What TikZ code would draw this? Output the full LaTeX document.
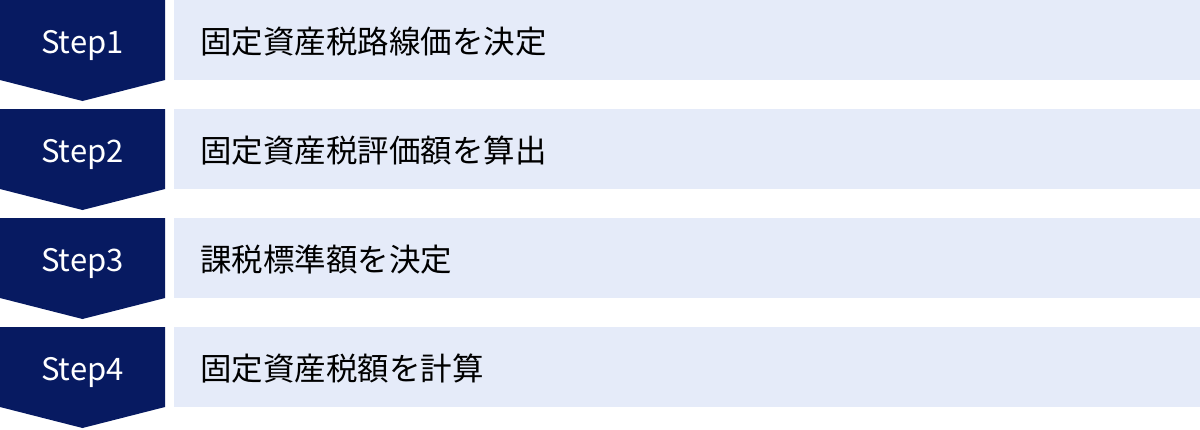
\documentclass[tikz,border=0pt]{standalone}
\usepackage{fontspec}
\newfontfamily\jpfont{Noto Sans CJK JP}
\definecolor{navy}{HTML}{071A61}
\definecolor{pale}{HTML}{E5EBF9}
\begin{document}
\begin{tikzpicture}[x=1pt,y=-1pt,
  stepshape/.style={fill=navy},
  panel/.style={fill=pale},
  steplabel/.style={text=white,font=\jpfont\fontsize{31}{36}\selectfont,inner sep=0pt,anchor=base},
  tasklabel/.style={text=black,font=\jpfont\fontsize{31.5}{36}\selectfont,inner sep=0pt,anchor=base west}]
\useasboundingbox (0,0) rectangle (1200,429);
\foreach \i/\t in {1/固定資産税路線価を決定,2/固定資産税評価額を算出,3/課税標準額を決定,4/固定資産税額を計算}{
  \pgfmathsetmacro{\top}{(\i-1)*109}
  \fill[stepshape] (0,\top) -- (165,\top) -- (165,\top+80) -- (82.5,\top+101) -- (0,\top+80) -- cycle;
  \fill[panel] (174,\top) rectangle (1200,\top+80);
  \node[steplabel] (step\i) at (82.5,\top+53) {Step\i};
  \node[tasklabel] (task\i) at (200,\top+53) {\t};
}
\end{tikzpicture}
\end{document}
